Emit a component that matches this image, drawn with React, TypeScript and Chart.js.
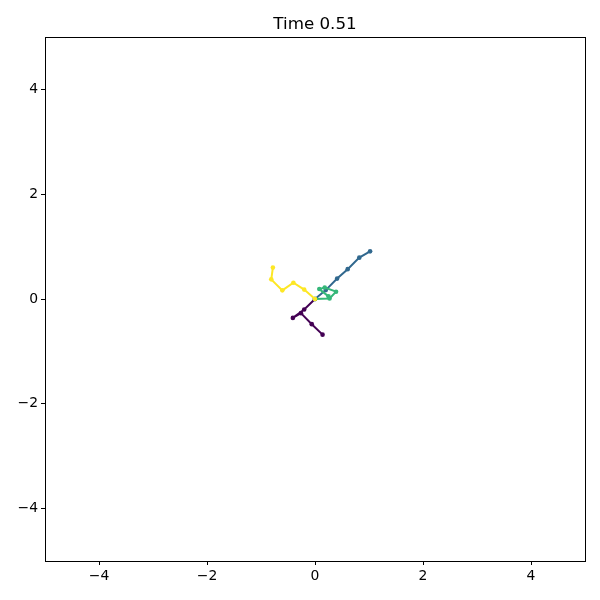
import React, { useEffect, useRef } from "react";
import { Chart, registerables } from "chart.js";

Chart.register(...registerables);

const titleText = "Time 0.51";
const tickValues = [-4, -2, 0, 2, 4];
const axisMin = -5;
const axisMax = 5;

const seriesNames = ["s0", "s1", "s2", "s3"];
const seriesColors = ["#440154", "#31688e", "#35b779", "#fde725"];

const purpleX = [0, -0.2, -0.41, -0.26, -0.06, 0.14];
const purpleY = [0, -0.2, -0.36, -0.27, -0.48, -0.68];
const blueX = [0, 0.2, 0.41, 0.605, 0.82, 1.02];
const blueY = [0, 0.17, 0.39, 0.57, 0.79, 0.91];
const greenX = [0, 0.27, 0.39, 0.18, 0.08, 0.25];
const greenY = [0, 0.01, 0.14, 0.22, 0.19, 0.05];
const yellowX = [0, -0.2, -0.4, -0.605, -0.81, -0.78];
const yellowY = [0, 0.18, 0.31, 0.165, 0.375, 0.6];

const allX = [purpleX, blueX, greenX, yellowX];
const allY = [purpleY, blueY, greenY, yellowY];

const framePlugin = {
  id: "frame",
  afterDraw(chart: any) {
    const { ctx, chartArea } = chart;
    ctx.save();
    ctx.strokeStyle = "#000";
    ctx.lineWidth = 1;
    ctx.strokeRect(
      Math.round(chartArea.left) + 0.5,
      Math.round(chartArea.top) + 0.5,
      Math.round(chartArea.right - chartArea.left),
      Math.round(chartArea.bottom - chartArea.top)
    );
    ctx.restore();
  },
};

export default function App() {
  const ref = useRef<HTMLCanvasElement | null>(null);
  useEffect(() => {
    document.body.style.margin = "0";
    if (!ref.current) return;
    const font = { family: "DejaVu Sans", size: 13.9 };
    const tickCb = (v: any) => String(v).replace("-", "\u2212");
    const datasets = seriesNames.map((name, i) => ({
      label: name,
      data: allX[i].map((x, j) => ({ x, y: allY[i][j] })),
      borderColor: seriesColors[i],
      backgroundColor: seriesColors[i],
      borderWidth: 2,
      pointRadius: 2.3,
      pointBorderWidth: 0,
      pointHoverRadius: 2.3,
      showLine: true,
      order: seriesNames.length - i,
    }));
    const chart = new Chart(ref.current, {
      type: "scatter",
      data: { datasets },
      plugins: [framePlugin],
      options: {
        animation: false,
        responsive: false,
        events: [],
        layout: { padding: { left: 0, right: 15, top: 0, bottom: 0 } },
        plugins: {
          legend: { display: false },
          tooltip: { enabled: false },
          title: {
            display: true,
            text: titleText,
            fullSize: false,
            color: "#000",
            font: { family: "DejaVu Sans", size: 16.7, weight: "normal" },
            padding: { top: 15, bottom: 2 },
          },
        },
        scales: {
          x: {
            type: "linear",
            min: axisMin,
            max: axisMax,
            afterBuildTicks: (s: any) => {
              s.ticks = tickValues.map((v) => ({ value: v }));
            },
            afterFit: (s: any) => {
              s.height = 39;
            },
            ticks: { color: "#000", font, padding: 3, callback: tickCb, maxRotation: 0 },
            grid: { display: true, drawOnChartArea: false, drawTicks: true, tickLength: 4, tickColor: "#000" },
            border: { display: true, color: "#000" },
          },
          y: {
            type: "linear",
            min: axisMin,
            max: axisMax,
            afterBuildTicks: (s: any) => {
              s.ticks = tickValues.map((v) => ({ value: v }));
            },
            afterFit: (s: any) => {
              s.width = 45;
            },
            ticks: { color: "#000", font, padding: 3, callback: tickCb },
            grid: { display: true, drawOnChartArea: false, drawTicks: true, tickLength: 4, tickColor: "#000" },
            border: { display: true, color: "#000" },
          },
        },
      } as any,
    });
    return () => chart.destroy();
  }, []);
  return <canvas ref={ref} width={600} height={600} style={{ display: "block" }} />;
}
